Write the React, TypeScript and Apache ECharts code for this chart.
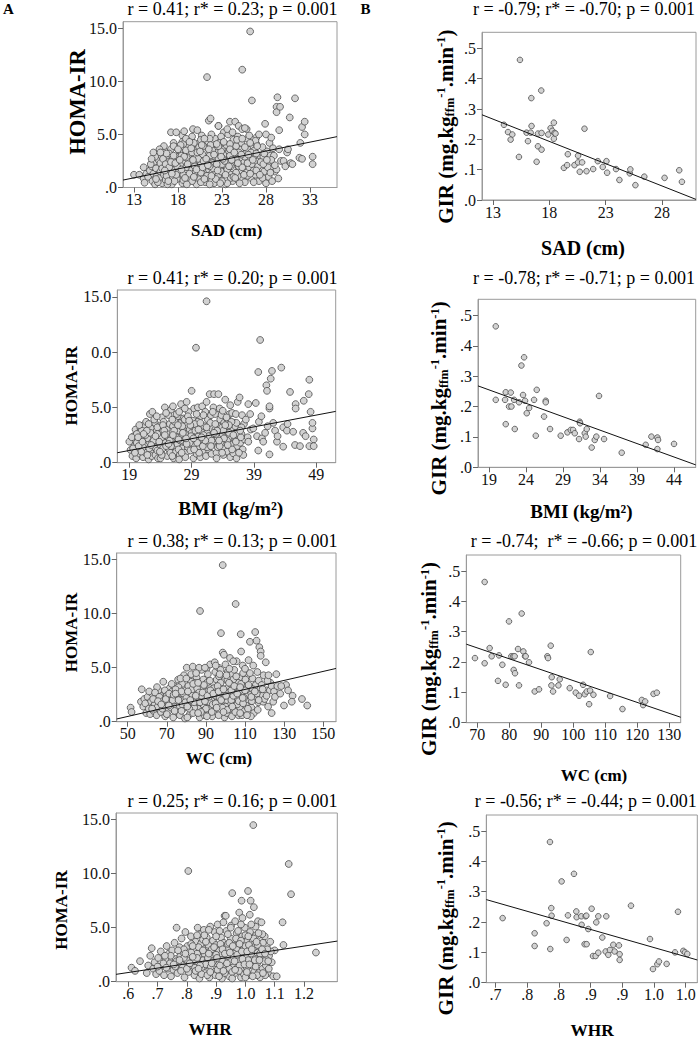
import React, { useEffect, useRef } from 'react';
import * as echarts from 'echarts';

type Pt = [number, number];
const FONT = "'Liberation Serif', 'Times New Roman', serif";

// ---------- A: HOMA-IR panels ----------
const sadHoma: Pt[] = [
  [13.0,1.2],[13.6,1.2],[14.1,0.85],[14.2,0.45],[14.1,1.9],[14.4,1.3],
  [14.6,1.0],[14.8,1.6],[15.0,2.0],[15.1,0.6],[15.2,1.3],[15.3,2.4],[15.4,0.3],[15.5,1.8],[14.9,2.2],[15.6,1.1],
  [15.8,2.6],[15.9,0.9],[16.0,1.5],[16.1,3.0],[16.2,0.4],[16.3,2.0],[16.4,1.2],[16.5,3.4],[16.0,2.3],[16.6,0.7],[16.2,1.8],
  [16.8,2.8],[16.9,1.4],[17.2,5.2],[17.1,0.5],[17.2,3.6],[17.3,2.1],[17.4,1.0],[17.5,4.2],[17.0,3.2],[17.6,1.7],[16.9,2.4],[17.3,0.3],
  [17.8,5.2],[17.8,2.6],[17.9,0.8],[18.5,4.9],[18.1,1.9],[18.2,3.4],[18.3,1.3],[18.5,4.3],[18.0,2.9],[18.5,0.4],[17.8,3.8],[18.3,2.2],[18.1,1.5],
  [18.7,5.3],[18.8,2.5],[18.9,1.1],[19.0,3.9],[19.1,0.5],[19.2,2.0],[19.3,3.1],[19.4,1.6],[19.5,4.4],[18.9,3.5],[19.2,0.9],[19.0,2.8],
  [19.7,5.5],[19.8,3.6],[19.9,1.3],[20.0,2.5],[20.1,0.3],[20.2,4.1],[20.3,1.9],[20.4,3.0],[20.5,0.8],[19.8,2.2],[20.2,5.4],[20.0,1.5],[20.4,3.8],
  [20.7,4.9],[20.8,2.7],[20.9,1.2],[21.0,3.5],[21.1,0.5],[21.2,2.3],[21.3,10.4],[21.4,4.3],[21.5,1.7],[20.8,3.1],[21.2,0.9],[21.5,6.3],[21.0,2.0],
  [21.7,6.5],[21.8,3.9],[21.9,1.4],[22.0,2.6],[22.1,0.4],[22.2,4.6],[22.3,2.0],[22.4,3.3],[22.5,1.0],[21.8,5.0],[22.2,2.9],[22.6,5.8],[22.0,1.8],
  [22.7,4.2],[22.8,2.4],[22.9,0.7],[23.0,3.6],[23.1,1.5],[23.2,5.2],[23.3,2.9],[23.4,0.3],[23.5,4.0],[22.8,1.9],[23.2,3.1],[23.0,2.2],
  [23.7,5.0],[23.8,2.7],[23.9,6.2],[24.0,1.3],[24.1,3.8],[24.2,0.6],[24.3,4.5],[24.4,2.1],[24.5,6.2],[23.8,3.4],[24.2,1.8],[24.0,0.9],
  [24.7,3.0],[24.8,4.8],[24.9,5.8],[25.0,1.6],[25.1,3.6],[25.2,0.8],[25.3,5.5],[25.3,11.1],[25.5,2.4],[24.8,1.1],[25.2,4.2],[25.0,2.8],
  [25.7,3.2],[25.8,1.4],[25.9,4.6],[26.0,2.6],[26.2,14.7],[26.3,0.9],[26.4,8.2],[26.5,3.8],[25.8,5.5],[26.1,1.9],[26.4,2.2],
  [26.7,3.5],[26.8,1.2],[26.9,4.1],[27.0,2.5],[27.2,0.6],[27.3,3.0],[27.4,1.8],[26.9,4.7],[27.1,2.0],
  [27.7,2.9],[27.8,1.5],[27.9,6.0],[28.0,0.4],[28.1,3.4],[28.2,2.2],[28.4,4.2],[28.3,1.0],[28.0,5.0],[28.7,0.6],[28.5,3.0],
  [28.8,3.7],[29.0,1.5],[29.2,7.6],[29.2,7.1],[29.3,8.5],[29.4,0.85],[29.5,5.4],[29.6,7.6],[29.5,3.6],[29.7,2.5],[29.2,1.7],[28.9,3.0],[29.0,2.1],
  [30.0,2.5],[30.2,2.0],[30.4,3.3],[30.5,3.6],[30.7,6.6],[30.8,2.3],[31.0,2.2],[31.3,8.4],[31.8,2.8],[31.9,4.2],[32.1,2.7],[32.1,5.7],[32.4,6.2],[32.4,5.0],[33.3,2.9],[33.3,2.2],
  [15.7,0.5],[16.7,1.1],[17.6,0.6],[18.6,1.2],[19.6,0.6],[20.6,1.4],[21.6,0.3],[22.6,1.2],[23.6,0.4],[24.6,1.4],[25.6,0.5],[26.6,1.6],
  [15.4,2.9],[16.4,3.9],[17.4,2.7],[18.4,3.0],[19.4,2.4],[20.6,2.2],[21.6,3.0],[22.6,2.7],[23.6,2.5],[24.6,3.9],[25.6,2.9],[26.6,2.9],
  [16.3,2.7],[17.8,1.2],[18.9,1.9],[19.9,2.8],[20.9,3.9],[21.9,2.3],[22.9,3.4],[23.9,4.1],[24.9,2.0],[25.9,3.6],[26.8,4.4],[27.6,3.8],
  [18.6,4.1],[19.6,4.8],[20.6,4.5],[21.6,4.6],[22.9,4.8],[23.6,5.5],[24.2,5.2],[26.1,4.9],[27.2,5.0],[28.6,4.7],[22.6,5.8],[25.6,5.6],
  [15.2,3.3],[15.9,3.6],[16.6,2.2],[17.0,1.9],[17.5,3.0],[17.9,2.0],[18.3,4.0],[18.6,0.7],[18.9,4.6],[19.3,1.3],[19.6,3.3],[19.9,2.0],
  [20.3,2.7],[20.6,0.5],[20.9,2.5],[21.3,1.1],[21.6,2.0],[21.9,3.5],[22.3,0.8],[22.6,3.9],[22.9,1.5],[23.3,2.5],[23.6,1.7],[23.9,3.0],
  [24.3,1.0],[24.6,2.6],[24.9,3.3],[25.3,1.9],[25.6,3.8],[25.9,1.1],[26.3,3.3],[26.6,0.5],[27.0,3.9],[27.4,2.4],[27.8,3.2],[28.2,1.9],
  [28.6,2.6],[16.8,0.3],[19.0,0.3],[21.0,0.8],[23.0,0.6],[25.0,0.4],[27.6,0.9],[17.2,2.4],[18.7,2.9],[20.2,3.3],[21.7,4.0],[23.2,4.3],
  [24.7,4.5],[26.2,4.2],[22.4,2.2],[24.0,2.0],[19.8,4.2],[21.0,4.6],[17.5,3.9],[16.7,3.2],
  [15.0,2.7],[15.5,0.8],[16.0,3.3],[16.5,1.6],[16.9,0.6],[17.3,1.3],[17.7,2.3],[18.0,3.6],[18.4,1.7],[18.8,0.9],[19.1,2.2],[19.5,3.7],
  [19.8,1.0],[20.1,1.7],[20.5,3.4],[20.8,1.9],[21.2,2.7],[21.5,3.6],[21.8,1.1],[22.1,3.1],[22.5,1.6],[22.8,0.4],[23.1,2.7],[23.4,1.2],
  [23.8,2.0],[24.1,2.6],[24.5,0.9],[24.8,2.3],[25.2,3.1],[25.5,1.2],[25.9,2.3],[26.2,1.3],[26.5,2.6],[26.9,1.6],[27.3,1.2],[27.7,2.2],
  [28.1,2.6],[28.5,1.4],[19.3,4.3],[20.7,4.0],[22.4,4.1],[23.9,3.6],[25.3,4.6],[26.9,3.2],[18.2,2.6],[19.7,2.6],[21.4,2.1],[22.9,2.9],
  [24.4,3.3],[26.0,3.1],
];

const bmiHoma: Pt[] = [
  [19.0,1.9],[19.2,1.15],[19.5,0.6],[19.7,2.4],[19.8,1.5],[20.0,3.0],[20.1,0.4],[20.3,2.0],[20.4,1.1],[20.6,2.7],
  [20.7,0.8],[20.8,3.1],[21.0,1.7],[21.1,2.3],[21.2,0.5],[21.3,3.4],[21.4,1.3],[21.5,2.0],[21.0,2.9],[21.6,0.9],
  [21.7,3.7],[21.8,1.6],[22.0,2.6],[22.1,0.3],[22.2,1.9],[22.3,4.4],[22.4,1.0],[22.5,3.1],[22.0,2.2],[22.6,0.6],
  [22.7,4.6],[22.8,2.5],[23.0,1.4],[23.1,3.6],[23.2,0.7],[23.3,2.0],[23.4,2.9],[23.5,1.1],[23.0,3.9],[23.6,0.4],
  [23.7,2.4],[23.8,3.3],[24.0,1.6],[24.1,0.9],[24.2,4.1],[24.3,2.8],[24.4,1.3],[24.5,3.7],[24.0,0.4],[24.6,2.1],
  [24.7,5.0],[24.8,1.8],[25.0,3.0],[25.1,0.6],[25.2,2.3],[25.3,4.3],[25.4,1.2],[25.5,3.5],[25.0,2.6],[25.6,0.9],
  [25.7,4.8],[25.8,2.0],[26.0,3.3],[26.1,0.4],[26.2,1.5],[26.3,2.7],[26.4,3.9],[26.5,1.0],[26.0,5.1],[26.6,2.3],
  [26.7,1.7],[26.8,4.2],[27.0,2.9],[27.1,0.7],[27.2,3.6],[27.3,5.3],[27.4,1.3],[27.5,2.4],[27.0,0.3],[27.6,3.1],
  [27.7,4.0],[27.8,1.9],[28.0,2.6],[28.1,0.9],[28.2,5.5],[28.3,3.4],[28.4,1.4],[28.5,4.6],[28.0,0.5],[28.6,2.2],
  [28.7,3.0],[28.8,1.1],[29.0,6.5],[29.1,2.0],[29.2,3.8],[29.3,0.4],[29.4,4.9],[29.5,1.6],[29.0,2.7],[29.7,10.4],
  [29.7,3.3],[29.8,0.8],[30.0,5.0],[30.1,2.4],[30.2,1.3],[30.3,4.1],[30.4,0.5],[30.5,2.9],[30.0,3.7],[30.6,1.8],
  [30.7,5.1],[30.8,1.0],[31.0,3.3],[31.1,2.2],[31.2,4.6],[31.4,14.6],[31.3,0.6],[31.5,2.7],[31.0,1.6],[31.6,3.9],
  [31.7,1.2],[31.9,6.2],[32.0,2.4],[32.1,4.3],[32.2,0.8],[32.3,3.1],[32.4,1.7],[32.5,5.0],[32.0,3.6],[32.6,6.2],
  [32.7,2.0],[32.8,4.4],[33.0,0.9],[33.1,3.4],[33.2,1.4],[33.3,6.2],[33.4,2.7],[33.5,4.9],[33.0,0.4],[33.6,3.9],
  [33.7,1.9],[33.8,4.3],[34.0,2.5],[34.1,0.7],[34.2,3.6],[34.4,5.7],[34.3,1.3],[34.5,2.9],[34.0,4.7],
  [34.7,1.0],[34.8,3.9],[35.0,2.2],[35.1,4.4],[35.2,0.5],[35.3,3.0],[35.4,1.6],[35.5,4.5],[35.0,2.7],
  [35.7,0.85],[35.8,3.6],[36.0,2.2],[36.1,4.4],[36.2,0.4],[36.3,1.5],[36.4,5.5],[36.5,2.9],[36.0,3.3],
  [36.7,5.9],[36.8,1.8],[37.0,2.6],[37.1,4.3],[37.2,1.2],[37.4,3.5],[37.5,2.1],[37.3,0.7],
  [37.7,3.9],[38.0,2.3],[38.1,5.3],[38.1,1.9],[38.5,3.0],[38.9,3.1],[39.3,5.4],[39.7,8.2],[39.7,1.1],[39.5,2.4],[40.0,11.1],[39.8,3.7],[38.4,4.4],
  [40.3,2.2],[40.5,1.9],[40.8,2.7],[41.0,7.0],[41.1,6.5],[41.5,4.9],[41.5,5.1],[41.5,0.75],[41.7,7.6],[41.9,8.3],[42.1,3.6],[42.4,2.9],[42.7,1.9],[43.4,8.6],[43.7,3.2],[43.7,1.45],[41.2,3.3],[42.8,2.4],[40.2,4.2],
  [44.3,2.9],[44.4,3.5],[44.8,6.4],[45.3,2.8],[45.6,1.6],[45.7,5.3],[45.7,4.9],[46.4,1.5],[46.9,2.7],[47.0,5.6],[47.3,2.4],[47.8,6.2],[47.9,7.5],[47.9,1.5],[48.1,4.6],[48.4,3.1],[48.4,3.6],[48.6,2.1],[48.6,1.5],
  [21.2,1.4],[22.7,1.9],[24.2,2.3],[25.7,1.5],[27.2,2.0],[28.7,1.8],[30.2,2.0],[31.7,2.4],[33.2,2.2],[34.7,2.0],[36.2,2.6],
  [20.2,2.6],[23.5,3.2],[26.3,3.7],[29.5,3.5],[32.8,3.0],[35.7,2.5],[24.9,4.5],[27.9,3.9],[30.9,4.3],[33.9,3.2],
  [19.6,1.3],[20.2,1.8],[20.9,1.0],[21.6,2.5],[22.2,1.3],[22.9,2.0],[23.5,2.6],[24.2,0.7],[24.9,1.5],[25.5,2.0],
  [26.2,2.9],[26.9,1.2],[27.5,3.3],[28.2,1.7],[28.9,2.4],[29.6,2.9],[30.2,0.9],[30.9,2.5],[31.5,1.4],[32.2,2.0],
  [32.9,2.6],[33.5,1.5],[34.2,2.2],[34.9,3.3],[35.5,1.2],[36.2,3.6],[36.9,2.3],[20.6,3.4],[22.4,2.7],[24.4,3.4],
  [26.6,4.4],[28.4,4.2],[30.4,3.6],[32.4,4.6],[34.6,4.1],[25.9,0.6],[29.9,1.8],[33.9,0.9],[23.4,4.2],[27.9,4.9],
  [31.4,5.5],[35.2,5.2],[21.9,0.7],[37.0,3.2],[36.6,0.9],
  [19.4,2.3],[19.9,0.9],[20.5,1.5],[21.1,1.9],[21.8,2.9],[22.5,1.6],[23.2,2.4],[23.9,1.0],[24.6,2.9],[25.3,1.7],
  [26.0,2.5],[26.8,3.4],[27.4,0.9],[28.1,2.2],[28.8,3.4],[29.4,1.2],[30.1,3.0],[30.8,1.5],[31.4,3.2],[32.1,1.5],
  [32.8,3.5],[33.4,2.0],[34.1,2.9],[34.8,1.6],[35.4,3.7],[36.1,1.9],[36.8,2.9],[21.3,2.6],[23.8,1.9],[25.9,3.9],
  [27.6,2.7],[29.3,2.2],[31.2,2.0],[33.1,2.9],[35.0,3.4],[20.4,2.3],[22.1,3.5],[24.7,2.5],[26.9,2.1],[28.6,3.8],
  [30.6,2.3],[32.6,2.7],[34.4,3.4],[29.8,4.4],[27.0,4.6],
];

const wcHoma: Pt[] = [
  [51.5,1.3],[52.0,0.9],[57.2,3.0],[56.8,1.85],[58.0,1.4],[58.5,2.1],[59.5,0.8],[59.0,1.7],
  [60.2,2.3],[60.8,1.2],[61.5,0.7],[62.0,1.9],[62.6,2.6],[63.2,1.0],[63.8,1.6],[61.0,2.8],
  [64.3,2.2],[64.8,0.6],[65.4,1.4],[66.0,2.9],[66.5,1.8],[67.0,0.9],[67.5,2.4],[65.0,3.2],[67.8,1.2],
  [68.2,3.7],[68.6,1.5],[69.2,0.5],[69.8,2.6],[70.4,1.9],[70.9,1.0],[71.5,3.1],[71.9,2.2],[69.0,2.9],[70.0,0.7],
  [72.3,1.3],[72.8,2.8],[73.3,0.4],[73.8,3.3],[74.3,1.7],[74.8,2.3],[75.3,0.9],[75.8,3.9],[73.0,2.0],[75.0,1.4],
  [76.2,2.6],[76.7,0.6],[77.2,1.9],[77.8,3.5],[78.3,1.2],[78.8,4.3],[79.3,0.3],[79.8,2.9],[77.0,4.0],[79.0,2.2],[76.5,1.5],
  [80.2,5.0],[80.7,1.6],[81.2,2.6],[81.8,0.7],[82.3,3.7],[82.8,1.2],[83.3,5.1],[83.8,2.1],[81.0,3.3],[82.5,4.4],[80.5,0.4],
  [84.2,2.8],[84.7,0.9],[85.2,4.1],[85.8,1.6],[86.3,3.2],[86.8,0.4],[87.0,10.25],[87.3,2.3],[87.8,4.8],[85.0,2.0],[86.5,5.0],[84.5,3.6],
  [88.2,1.2],[88.7,3.9],[89.2,0.6],[89.8,2.6],[90.3,4.9],[90.8,1.8],[91.3,3.3],[91.8,0.8],[89.0,2.1],[90.5,3.6],[91.0,4.4],[88.5,1.6],
  [92.2,5.3],[92.7,2.4],[93.2,0.5],[93.8,3.6],[94.3,1.4],[94.8,4.6],[95.3,2.9],[95.8,0.9],[93.0,2.0],[94.5,5.5],[95.5,3.9],[92.5,1.1],
  [96.2,2.1],[96.7,4.2],[97.2,1.0],[97.7,8.2],[98.2,3.1],[98.6,14.5],[98.6,6.4],[99.2,6.2],[99.5,0.4],[96.5,5.0],[98.0,2.6],[99.8,3.9],[97.0,1.6],
  [100.2,2.9],[100.7,0.8],[101.2,4.6],[101.8,1.8],[102.3,5.9],[102.8,2.4],[103.3,0.5],[103.8,3.4],[101.0,3.9],[102.5,1.2],[103.5,4.4],[100.5,2.0],
  [104.2,1.5],[104.7,3.0],[105.2,10.9],[105.7,5.6],[106.2,2.2],[106.7,0.6],[107.2,4.1],[107.8,8.1],[105.0,2.6],[106.5,3.6],[107.5,1.2],[104.5,4.8],
  [108.0,6.5],[108.8,5.2],[109.3,2.7],[109.8,1.0],[110.3,3.6],[110.8,2.0],[111.3,4.3],[111.8,5.7],[109.0,3.3],[110.5,1.5],[111.5,2.5],[108.5,0.6],
  [112.5,7.4],[112.8,3.1],[113.3,1.3],[113.8,4.0],[114.2,5.2],[114.8,2.2],[115.2,8.3],[115.9,7.5],[113.0,2.7],[114.5,0.8],[115.5,3.4],
  [116.3,4.6],[116.8,1.8],[117.3,6.9],[117.8,3.0],[118.0,6.5],[118.0,6.1],[118.8,2.4],[119.3,1.85],[117.0,3.8],[119.5,4.3],[116.5,1.1],
  [120.6,5.5],[121.0,2.9],[121.8,1.4],[122.7,2.9],[123.0,3.6],[123.6,3.3],[123.6,0.8],[124.4,1.85],[124.8,2.8],[126.0,4.4],[126.5,3.3],[121.5,3.8],[125.3,2.3],
  [129.9,1.5],[134.3,2.4],[133.9,1.85],[139.1,2.1],[141.8,1.5],[128.0,2.6],[131.0,3.4],[128.5,3.3],[132.0,2.9],
  [78.0,1.6],[83.0,2.5],[86.0,1.2],[89.5,2.9],[92.0,1.8],[95.0,2.4],[97.5,3.6],[100.0,1.4],[103.0,2.0],[106.0,1.6],[109.5,2.2],
  [81.5,1.9],[84.0,1.3],[88.0,3.0],[91.5,2.3],[94.0,3.1],[97.0,2.2],[101.5,3.2],[104.0,3.9],[107.0,2.8],[111.0,3.0],[113.5,1.9],
  [62.5,1.2],[64.0,2.7],[66.2,2.3],[68.0,1.9],[70.0,2.4],[71.0,1.5],[72.5,3.5],[74.0,1.0],[75.5,2.7],[77.5,1.0],
  [78.5,2.6],[80.0,2.2],[81.5,1.2],[83.0,3.0],[84.0,1.8],[85.5,3.1],[86.5,2.7],[88.0,2.3],[89.0,3.4],[90.0,1.2],
  [91.0,2.8],[92.0,3.8],[93.5,1.6],[94.5,2.7],[96.0,3.3],[97.5,4.8],[98.5,1.3],[99.5,2.4],[100.5,4.3],[101.5,2.7],
  [102.5,3.5],[104.0,2.4],[105.5,4.2],[106.8,1.9],[108.0,3.5],[109.0,4.5],[110.0,2.9],[111.5,1.2],[112.5,4.5],[114.0,3.0],
  [116.0,2.6],[118.5,3.4],[120.0,2.1],[122.0,4.3],[83.5,0.8],[87.5,0.9],[93.0,0.9],[96.5,0.6],[101.0,1.1],[105.0,0.9],
  [109.0,1.7],[113.0,0.5],[76.0,3.2],[80.0,4.0],[85.0,4.5],[89.5,5.0],[95.0,5.2],[100.0,5.3],[104.0,5.6],[110.0,4.9],
  [63.0,2.1],[65.5,1.9],[67.2,1.6],[69.5,2.1],[71.2,2.6],[73.5,2.5],[74.5,3.0],[76.0,2.0],[77.5,2.8],[79.5,1.8],
  [80.8,2.8],[82.0,2.0],[83.5,3.5],[84.8,2.4],[86.0,3.6],[87.0,1.8],[88.3,2.7],[89.5,1.9],[90.8,2.4],[92.3,2.9],
  [93.8,2.6],[95.0,1.7],[96.5,2.8],[97.8,2.0],[99.0,3.0],[100.3,2.4],[101.8,3.6],[103.0,2.9],[104.5,3.3],[106.0,2.6],
  [107.5,3.2],[108.8,2.2],[110.2,3.9],[111.8,3.4],[113.2,2.3],[115.0,2.8],[117.0,2.0],[119.0,3.0],[121.0,2.4],[86.0,0.8],
  [90.5,0.5],[95.5,1.3],[99.0,0.9],[103.5,1.4],[107.5,0.8],[111.0,0.6],[80.5,1.4],[74.5,2.6],[97.0,4.4],[102.0,4.9],
];

const whrHoma: Pt[] = [
  [0.611,1.3],[0.623,1.0],[0.640,1.9],[0.663,0.8],[0.668,1.5],[0.675,2.4],[0.680,3.1],[0.685,1.2],[0.690,1.8],[0.695,0.7],
  [0.702,2.2],[0.706,1.0],[0.711,2.8],[0.716,1.5],[0.722,0.6],[0.727,2.0],[0.731,3.3],[0.735,1.2],[0.738,2.6],
  [0.742,1.7],[0.746,0.5],[0.750,2.9],[0.754,1.1],[0.758,3.6],[0.762,2.1],[0.765,5.0],[0.768,0.8],[0.772,1.6],[0.775,3.2],[0.778,2.4],
  [0.782,4.0],[0.785,1.3],[0.788,2.7],[0.792,0.4],[0.795,4.6],[0.798,1.9],[0.805,10.25],[0.802,3.3],[0.806,0.9],[0.810,2.3],[0.814,4.2],[0.818,1.5],[0.790,3.0],
  [0.822,2.9],[0.826,0.6],[0.830,3.7],[0.834,1.8],[0.837,5.0],[0.840,2.4],[0.843,0.3],[0.846,4.4],[0.850,1.2],[0.853,3.1],[0.856,2.0],[0.858,4.8],[0.828,1.3],[0.848,3.5],
  [0.862,0.8],[0.865,2.7],[0.868,4.1],[0.871,1.5],[0.874,3.4],[0.877,0.4],[0.880,5.1],[0.883,2.2],[0.886,1.0],[0.889,3.8],[0.892,2.6],[0.895,4.6],[0.898,0.6],[0.870,1.9],[0.885,3.0],
  [0.902,1.7],[0.905,5.3],[0.908,3.2],[0.911,0.9],[0.914,2.4],[0.917,4.1],[0.920,0.3],[0.923,1.4],[0.926,3.6],[0.929,6.1],[0.932,2.0],[0.935,4.7],[0.938,1.1],[0.933,6.1],[0.910,2.9],[0.925,5.5],
  [0.942,3.0],[0.945,0.5],[0.948,2.3],[0.951,5.2],[0.955,8.2],[0.958,1.6],[0.961,3.9],[0.964,0.8],[0.967,2.7],[0.970,4.5],[0.973,1.3],[0.976,3.4],[0.979,6.4],[0.950,4.0],[0.965,5.6],[0.975,2.0],[0.945,1.2],
  [0.982,2.5],[0.985,0.4],[0.987,7.5],[0.989,4.2],[0.992,1.1],[0.995,3.1],[0.998,5.0],[1.001,1.9],[1.004,3.7],[1.009,8.4],[1.010,0.6],[1.013,2.8],[1.016,4.6],[1.018,7.5],[1.015,6.2],[0.990,5.9],[1.005,2.3],[0.995,0.7],
  [1.022,1.5],[1.025,3.4],[1.027,14.5],[1.029,6.9],[1.030,0.9],[1.033,2.4],[1.036,4.3],[1.040,1.7],[1.043,5.6],[1.046,3.0],[1.050,0.4],[1.053,2.2],[1.056,3.8],[1.059,1.2],[1.035,5.1],[1.045,0.8],
  [1.062,2.6],[1.066,4.2],[1.070,1.5],[1.073,3.3],[1.077,0.8],[1.081,2.4],[1.085,3.7],[1.090,1.8],[1.095,0.5],[1.100,2.9],[1.068,0.6],[1.087,2.8],
  [1.107,0.5],[1.127,5.5],[1.130,3.4],[1.148,10.9],[1.156,8.1],[1.241,2.7],
  [0.760,1.4],[0.800,2.0],[0.835,2.6],[0.865,1.6],[0.895,2.1],[0.920,2.6],[0.950,1.9],[0.980,1.5],[1.010,2.0],[1.040,2.7],[1.070,2.1],
  [0.815,3.5],[0.855,3.9],[0.900,3.4],[0.940,3.5],[0.970,3.0],[1.000,3.3],[1.030,3.2],[1.060,3.6],[0.880,2.4],[0.960,2.6],
  [0.720,1.7],[0.745,2.4],[0.770,2.9],[0.780,1.0],[0.800,1.2],[0.815,2.7],[0.825,2.0],[0.840,3.2],[0.850,0.7],[0.860,2.6],
  [0.872,2.2],[0.882,1.4],[0.890,1.9],[0.900,2.5],[0.905,1.1],[0.915,3.5],[0.920,2.0],[0.930,0.8],[0.940,2.4],[0.945,3.6],
  [0.955,0.9],[0.960,2.3],[0.968,4.0],[0.978,1.0],[0.985,3.8],[0.990,2.1],[1.000,4.3],[1.005,1.3],[1.012,3.4],[1.020,2.6],
  [1.028,4.0],[1.035,1.4],[1.042,3.4],[1.050,2.6],[1.058,4.4],[1.065,1.9],[1.075,3.0],[1.080,1.2],[0.790,2.2],[0.835,4.3],
  [0.875,4.8],[0.912,4.7],[0.950,5.0],[0.985,5.3],[1.020,5.3],[1.055,5.5],[0.870,0.6],[0.910,0.5],[0.955,0.3],[1.000,0.4],
  [1.040,0.6],[0.830,1.0],[0.765,1.9],[0.730,1.3],[0.700,1.4],
  [0.725,2.4],[0.755,1.6],[0.775,2.0],[0.795,2.6],[0.810,1.7],[0.820,3.3],[0.835,2.2],[0.845,1.5],[0.855,2.9],[0.865,3.7],
  [0.875,2.6],[0.885,1.7],[0.893,3.2],[0.903,2.2],[0.913,1.5],[0.922,3.0],[0.930,2.6],[0.937,1.7],[0.947,2.7],[0.957,3.3],
  [0.963,1.9],[0.972,2.5],[0.980,3.5],[0.988,2.8],[0.997,1.6],[1.006,2.8],[1.014,1.6],[1.022,3.0],[1.032,2.0],[1.038,3.7],
  [1.048,2.0],[1.057,3.0],[1.067,2.6],[1.078,1.9],[0.840,1.2],[0.880,0.9],[0.925,1.0],[0.965,1.1],[1.005,0.9],[1.025,0.5],
  [1.060,0.8],[0.820,2.3],[0.900,4.2],[0.940,4.4],[0.975,4.7],[1.010,4.2],[1.045,4.5],[0.860,4.3],
];

// ---------- B: GIR panels ----------
const sadGir: Pt[] = [
  [15.39,0.462],[17.28,0.361],[16.40,0.336],[18.40,0.255],[21.12,0.235],[16.42,0.244],[13.97,0.248],[14.33,0.224],
  [14.71,0.216],[14.56,0.199],[15.98,0.222],[16.34,0.222],[16.99,0.219],[17.31,0.221],[16.10,0.194],[16.99,0.177],
  [17.31,0.166],[16.87,0.126],[15.30,0.142],[17.90,0.216],[18.11,0.237],[18.26,0.228],[18.46,0.221],[18.40,0.202],
  [18.55,0.219],[19.64,0.151],[19.29,0.106],[19.58,0.115],[20.23,0.115],[20.55,0.146],[20.55,0.124],[20.70,0.093],
  [20.91,0.124],[21.30,0.095],[21.89,0.102],[22.30,0.128],[22.74,0.109],[23.07,0.128],[23.13,0.090],[23.92,0.102],
  [24.22,0.066],[25.14,0.088],[25.19,0.101],[25.64,0.049],[26.43,0.077],[28.23,0.073],[29.53,0.098],[29.77,0.060],
];

const bmiGir: Pt[] = [
  [19.90,0.464],[23.73,0.362],[23.37,0.335],[25.44,0.255],[33.86,0.235],[19.90,0.222],[21.16,0.222],[21.25,0.247],
  [21.93,0.246],[22.38,0.222],[21.70,0.200],[22.02,0.200],[23.05,0.214],[23.59,0.238],[23.86,0.219],[24.41,0.195],
  [24.09,0.178],[25.08,0.222],[26.66,0.219],[26.66,0.214],[21.25,0.142],[22.47,0.126],[25.31,0.104],[26.43,0.167],
  [27.24,0.126],[28.68,0.104],[29.59,0.115],[30.04,0.123],[30.35,0.123],[30.58,0.112],[31.16,0.093],[31.25,0.150],
  [31.30,0.145],[31.93,0.112],[32.20,0.126],[32.06,0.101],[32.87,0.065],[33.28,0.090],[33.50,0.101],[34.54,0.093],
  [36.93,0.048],[40.17,0.074],[40.94,0.101],[41.75,0.098],[41.84,0.090],[41.75,0.060],[44.00,0.077],
];

const wcGir: Pt[] = [
  [72.30,0.464],[79.91,0.334],[83.88,0.360],[92.96,0.254],[105.48,0.233],[69.27,0.213],[72.30,0.196],[73.86,0.246],
  [74.49,0.219],[76.78,0.222],[77.83,0.191],[76.47,0.138],[78.87,0.125],[80.64,0.219],[81.27,0.219],[81.69,0.219],
  [81.37,0.174],[81.79,0.163],[82.73,0.243],[83.04,0.123],[84.40,0.235],[84.92,0.219],[85.13,0.219],[86.17,0.199],
  [87.95,0.103],[89.30,0.110],[91.91,0.219],[92.12,0.213],[93.27,0.150],[93.17,0.123],[93.69,0.103],[95.36,0.123],
  [95.77,0.143],[98.90,0.114],[100.78,0.099],[101.82,0.089],[103.08,0.125],[103.60,0.094],[104.23,0.103],[104.96,0.061],
  [105.27,0.106],[106.31,0.092],[111.53,0.088],[115.39,0.045],[121.44,0.075],[121.86,0.058],[122.49,0.070],[125.10,0.095],
  [126.14,0.099],
];

const whrGir: Pt[] = [
  [0.7858,0.464],[0.8237,0.359],[0.8042,0.334],[0.9137,0.254],[0.9879,0.234],[0.7111,0.213],[0.7616,0.121],[0.7616,0.163],
  [0.7805,0.196],[0.7863,0.111],[0.7879,0.246],[0.7884,0.221],[0.8121,0.141],[0.8142,0.222],[0.8274,0.235],[0.8279,0.216],
  [0.8353,0.219],[0.8358,0.191],[0.8421,0.219],[0.8432,0.221],[0.8405,0.127],[0.8437,0.127],[0.8463,0.177],[0.8516,0.244],
  [0.8589,0.199],[0.8621,0.219],[0.8537,0.088],[0.8579,0.088],[0.8621,0.099],[0.8747,0.219],[0.8684,0.149],[0.8737,0.103],
  [0.8779,0.092],[0.8805,0.108],[0.8858,0.125],[0.8879,0.103],[0.8947,0.123],[0.8958,0.094],[0.8958,0.075],[0.9437,0.144],
  [0.9484,0.045],[0.9553,0.061],[0.9579,0.070],[0.9700,0.062],[0.9832,0.100],[0.9963,0.105],[0.9989,0.100],[1.0026,0.095],
];

// ---------- regression lines (end points) ----------
const sadHomaFit: Pt[] = [[11.75, 0.7], [36.07, 4.79]];
const bmiHomaFit: Pt[] = [[17.07, 0.9], [52.13, 4.64]];
const wcHomaFit: Pt[] = [[44.4, 0.25], [156.5, 4.93]];
const whrHomaFit: Pt[] = [[0.558, 0.68], [1.314, 3.76]];
const sadGirFit: Pt[] = [[12.02, 0.281], [31.02, 0.002]];
const bmiGirFit: Pt[] = [[17.5, 0.268], [46.93, 0.008]];
const wcGirFit: Pt[] = [[66.56, 0.259], [133.6, 0.018]];
const whrGirFit: Pt[] = [[0.6853, 0.274], [1.0184, 0.075]];

// ---------- ticks ----------
const homaTicks = [0, 5, 10, 15];
const homaLabels = ['.0', '5.0', '10.0', '15.0'];
const homaLabelsBmi = ['.0', '5.0', '0.0', '15.0'];
const girTicks = [0, 0.1, 0.2, 0.3, 0.4, 0.5];
const girLabels = ['.0', '.1', '.2', '.3', '.4', '.5'];
const sadTicksA = [13, 18, 23, 28, 33];
const bmiTicksA = [19, 29, 39, 49];
const wcTicksA = [50, 70, 90, 110, 130, 150];
const whrTicksA = [0.6, 0.7, 0.8, 0.9, 1.0, 1.1, 1.2];
const whrLabelsA = ['.6', '.7', '.8', '.9', '1.0', '1.1', '1.2'];
const sadTicksB = [13, 18, 23, 28];
const bmiTicksB = [19, 24, 29, 34, 39, 44];
const wcTicksB = [70, 80, 90, 100, 110, 120, 130];
const whrTicksB = [0.70, 0.75, 0.80, 0.85, 0.90, 0.95, 1.00];
const whrLabelsB = ['.7', '.8', '.8', '.9', '.9', '1.0', '1.0'];

const titlesA = ['r = 0.41; r* = 0.23; p = 0.001', 'r = 0.41; r* = 0.20; p = 0.001', 'r = 0.38; r* = 0.13; p = 0.001', 'r = 0.25; r* = 0.16; p = 0.001'];
const titlesB = ['r = -0.79; r* = -0.70; p = 0.001', 'r = -0.78; r* = -0.71; p = 0.001', 'r = -0.74;  r* = -0.66; p = 0.001', 'r = -0.56; r* = -0.44; p = 0.001'];

interface Panel {
  box: [number, number, number, number];
  xMin: number; xMax: number; yMax: number;
  xTicks: number[]; xLabels: string[];
  yTicks: number[]; yLabels: string[];
  points: Pt[]; fit: Pt[]; size: number;
}

const str = (a: number[]) => a.map((v) => String(v));

const panels: Panel[] = [
  { box: [123, 21.7, 214, 165.8], xMin: 11.75, xMax: 36.07, yMax: 15.62, xTicks: sadTicksA, xLabels: str(sadTicksA), yTicks: homaTicks, yLabels: homaLabels, points: sadHoma, fit: sadHomaFit, size: 6.8 },
  { box: [117.3, 290, 218.4, 172.7], xMin: 17.07, xMax: 52.13, yMax: 15.62, xTicks: bmiTicksA, xLabels: str(bmiTicksA), yTicks: homaTicks, yLabels: homaLabelsBmi, points: bmiHoma, fit: bmiHomaFit, size: 6.8 },
  { box: [116.7, 553, 219.3, 168.7], xMin: 44.4, xMax: 156.5, yMax: 15.62, xTicks: wcTicksA, xLabels: str(wcTicksA), yTicks: homaTicks, yLabels: homaLabels, points: wcHoma, fit: wcHomaFit, size: 6.8 },
  { box: [116, 813, 221.3, 168.7], xMin: 0.558, xMax: 1.314, yMax: 15.62, xTicks: whrTicksA, xLabels: whrLabelsA, yTicks: homaTicks, yLabels: homaLabels, points: whrHoma, fit: whrHomaFit, size: 6.8 },
  { box: [482, 32.3, 214, 167.7], xMin: 12.02, xMax: 31.02, yMax: 0.553, xTicks: sadTicksB, xLabels: str(sadTicksB), yTicks: girTicks, yLabels: girLabels, points: sadGir, fit: sadGirFit, size: 5.6 },
  { box: [478, 299.3, 217.7, 168], xMin: 17.5, xMax: 46.93, yMax: 0.553, xTicks: bmiTicksB, xLabels: str(bmiTicksB), yTicks: girTicks, yLabels: girLabels, points: bmiGir, fit: bmiGirFit, size: 5.6 },
  { box: [466.3, 555, 214.4, 167.7], xMin: 66.56, xMax: 133.6, yMax: 0.553, xTicks: wcTicksB, xLabels: str(wcTicksB), yTicks: girTicks, yLabels: girLabels, points: wcGir, fit: wcGirFit, size: 5.6 },
  { box: [486.3, 815, 211, 167.7], xMin: 0.6853, xMax: 1.0184, yMax: 0.553, xTicks: whrTicksB, xLabels: whrLabelsB, yTicks: girTicks, yLabels: girLabels, points: whrGir, fit: whrGirFit, size: 5.6 },
];

const titlePos: [number, number][] = [[232.5, 9], [232.5, 278], [232.5, 540.7], [232.5, 800.7], [584, 9], [584, 278], [584, 540.7], [585.7, 800.7]];
const xNames: { t: string; x: number; y: number; s: number }[] = [
  { t: 'SAD (cm)', x: 226.7, y: 230, s: 17 },
  { t: 'BMI (kg/m²)', x: 230.8, y: 508.3, s: 19.5 },
  { t: 'WC (cm)', x: 219, y: 758.3, s: 17 },
  { t: 'WHR', x: 210, y: 1029.5, s: 17.3 },
  { t: 'SAD (cm)', x: 583, y: 248.3, s: 20 },
  { t: 'BMI (kg/m²)', x: 581.5, y: 511.7, s: 19 },
  { t: 'WC (cm)', x: 594, y: 775, s: 17 },
  { t: 'WHR', x: 592, y: 1030, s: 17.3 },
];
const homaNames: { x: number; y: number; s: number }[] = [
  { x: 77, y: 102, s: 22.6 }, { x: 71.7, y: 385.8, s: 17 }, { x: 71.7, y: 632.5, s: 17 }, { x: 61.7, y: 910, s: 17 },
];
const girNames: { x: number; y: number }[] = [
  { x: 445.7, y: 126.7 }, { x: 439, y: 398.3 }, { x: 429, y: 659 }, { x: 445.7, y: 918.3 },
];

const fmt = (ticks: number[], labels: string[]) => (v: number) => {
  const i = ticks.findIndex((t) => Math.abs(t - v) < 1e-6);
  return i >= 0 ? labels[i] : '';
};

function buildOption(): any {
  const grid = panels.map((p) => ({
    left: p.box[0], top: p.box[1], width: p.box[2], height: p.box[3],
    show: true, borderColor: '#9a9a9a', borderWidth: 1, backgroundColor: 'rgba(0,0,0,0)',
  }));
  const labelStyle = { fontFamily: FONT, fontSize: 16, color: '#111' };
  const xAxis = panels.map((p, i) => ({
    type: 'value', gridIndex: i, min: p.xMin, max: p.xMax,
    splitLine: { show: false },
    axisLine: { show: true, onZero: false, lineStyle: { color: '#9a9a9a' } },
    axisTick: { show: true, length: 5, lineStyle: { color: '#666' }, customValues: p.xTicks },
    axisLabel: { ...labelStyle, margin: 4, customValues: p.xTicks, formatter: fmt(p.xTicks, p.xLabels) },
  }));
  const yAxis = panels.map((p, i) => ({
    type: 'value', gridIndex: i, min: 0, max: p.yMax,
    splitLine: { show: false },
    axisLine: { show: true, onZero: false, lineStyle: { color: '#9a9a9a' } },
    axisTick: { show: true, length: 5, lineStyle: { color: '#666' }, customValues: p.yTicks },
    axisLabel: { ...labelStyle, margin: 6, customValues: p.yTicks, formatter: fmt(p.yTicks, p.yLabels) },
  }));
  const series: any[] = [];
  panels.forEach((p, i) => {
    series.push({
      type: 'scatter', xAxisIndex: i, yAxisIndex: i, data: p.points, symbolSize: p.size,
      itemStyle: { color: '#d2d2d2', borderColor: '#4a4a4a', borderWidth: 0.8, opacity: 1 },
      z: 2, silent: true,
    });
    series.push({
      type: 'line', xAxisIndex: i, yAxisIndex: i, data: p.fit, symbol: 'none', showSymbol: false,
      lineStyle: { color: '#111', width: 1 }, z: 3, silent: true,
    });
  });

  const graphic: any[] = [];
  const txt = (text: string, x: number, y: number, size: number, bold = false, rotation = 0, rich?: any) => ({
    type: 'text', x, y, rotation, silent: true,
    style: {
      text, fontFamily: FONT, fontSize: size, fontWeight: bold ? 'bold' : 'normal', fill: '#000',
      align: 'center', verticalAlign: 'middle', rich,
    },
  });
  graphic.push(txt('A', 8.5, 9, 15, true));
  graphic.push(txt('B', 365.5, 9, 15, true));
  [...titlesA, ...titlesB].forEach((t, i) => graphic.push(txt(t, titlePos[i][0], titlePos[i][1], 18)));
  xNames.forEach((n) => graphic.push(txt(n.t, n.x, n.y, n.s, true)));
  homaNames.forEach((n) => graphic.push(txt('HOMA-IR', n.x, n.y, n.s, true, Math.PI / 2)));
  const rich = {
    b: { fontFamily: FONT, fontSize: 21, fontWeight: 'bold', lineHeight: 22, verticalAlign: 'middle', fill: '#000', color: '#000' },
    sub: { fontFamily: FONT, fontSize: 12.5, fontWeight: 'bold', lineHeight: 10, verticalAlign: 'bottom', fill: '#000', color: '#000' },
    sup: { fontFamily: FONT, fontSize: 12.5, fontWeight: 'bold', lineHeight: 10, verticalAlign: 'top', fill: '#000', color: '#000' },
  };
  girNames.forEach((n) =>
    graphic.push(txt('{b|GIR (mg.kg}{sub|ffm}{sup|-1}{b|.min}{sup|-1}{b|)}', n.x, n.y, 21, true, Math.PI / 2, rich)),
  );

  return { animation: false, backgroundColor: '#fff', grid, xAxis, yAxis, series, graphic };
}

export default function App() {
  const ref = useRef<HTMLDivElement>(null);
  useEffect(() => {
    document.body.style.margin = '0';
    const chart = echarts.init(ref.current as HTMLDivElement, null, { renderer: 'svg' });
    chart.setOption(buildOption());
    return () => chart.dispose();
  }, []);
  return <div ref={ref} style={{ position: 'absolute', left: 0, top: 0, width: 699, height: 1040, background: '#fff' }} />;
}
